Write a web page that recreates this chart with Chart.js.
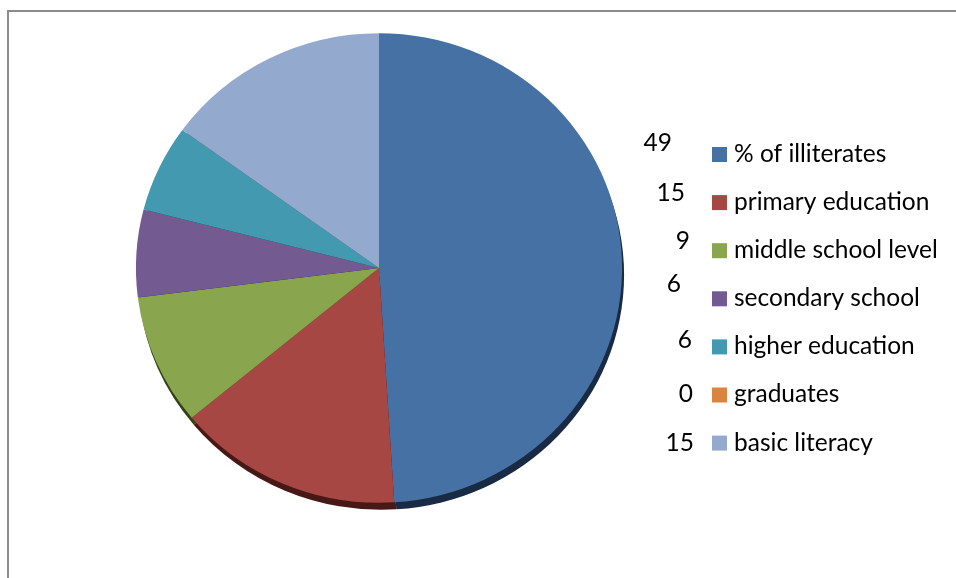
<!DOCTYPE html>
<html>
<head>
<meta charset="utf-8">
<script src="https://cdn.jsdelivr.net/npm/chart.js@4.4.0/dist/chart.umd.min.js"></script>
<style>
  html, body { margin: 0; padding: 0; background: #fff; overflow: hidden; }
  #wrap { position: relative; width: 956px; height: 578px; }
  #frame { position: absolute; left: 7px; top: 10px; width: 1000px; height: 1000px; border: 2px solid #8c8c8c; }
  canvas { position: absolute; left: 0; top: 0; }
</style>
</head>
<body>
<div id="wrap">
  <div id="frame"></div>
  <canvas id="grafico" width="956" height="578"></canvas>
</div>
<script>
var categorias = ['% of illiterates', 'primary education', 'middle school level', 'secondary school', 'higher education', 'graduates', 'basic literacy'];
var valores = [49, 15, 9, 6, 6, 0, 15];
var cores = ['#4671A5', '#A64744', '#89A54E', '#735A90', '#4299B0', '#DB843D', '#94A9CE'];
var sombras = ['#182a44', '#461816', '#34421b', '#2a1f38', '#163a44', '#5a3010', '#3a4660'];

// a pizza do original e um pouco achatada
var escalaX = 1.03, escalaY = 0.995;

function achatar(chart) {
  var a = chart.getDatasetMeta(0).data[0];
  chart.ctx.translate(a.x, a.y);
  chart.ctx.scale(escalaX, escalaY);
  chart.ctx.translate(-a.x, -a.y);
}

// sombra escura por baixo da pizza
var sombraPizza = {
  id: 'sombraPizza',
  beforeDatasetsDraw: function(chart) {
    var ctx = chart.ctx;
    var arcs = chart.getDatasetMeta(0).data;
    ctx.save();
    ctx.translate(2, 7);
    achatar(chart);
    arcs.forEach(function(a, i) {
      if (a.endAngle - a.startAngle <= 0) return;
      ctx.beginPath();
      ctx.moveTo(a.x, a.y);
      ctx.arc(a.x, a.y, a.outerRadius, a.startAngle, a.endAngle);
      ctx.closePath();
      ctx.fillStyle = sombras[i];
      ctx.fill();
    });
    ctx.restore();
    ctx.save();
    achatar(chart);
  },
  afterDatasetsDraw: function(chart) {
    chart.ctx.restore();
  }
};

// legenda com os valores a esquerda
var legenda = {
  id: 'legenda',
  afterDraw: function(chart) {
    var ctx = chart.ctx;
    var x0 = 712, y0 = 154, passo = 48.1;
    var numX = [672, 685, 690, 681, 692, 693, 694];
    var numDy = [-11, -9, -9, -14, -6, 0, 0];
    ctx.save();
    ctx.font = '24.5px Lato, "Open Sans", sans-serif';
    ctx.textBaseline = 'middle';
    chart.data.labels.forEach(function(lab, i) {
      var y = y0 + i * passo;
      ctx.fillStyle = cores[i];
      ctx.fillRect(x0, y - 7, 15, 15);
      ctx.fillStyle = '#000';
      ctx.textAlign = 'left';
      ctx.fillText(lab, x0 + 22, y);
      ctx.textAlign = 'right';
      ctx.fillText(String(chart.data.datasets[0].data[i]), numX[i], y + numDy[i]);
    });
    ctx.restore();
  }
};

var ctx = document.getElementById('grafico').getContext('2d');
var grafico = new Chart(ctx, {
  type: 'pie',
  data: {
    labels: categorias,
    datasets: [{
      data: valores,
      backgroundColor: cores,
      borderWidth: 0
    }]
  },
  options: {
    responsive: false,
    animation: false,
    layout: {
      padding: { left: 143, right: 341, top: 32, bottom: 74 }
    },
    plugins: {
      legend: { display: false },
      tooltip: { enabled: false }
    }
  },
  plugins: [sombraPizza, legenda]
});
</script>
</body>
</html>
